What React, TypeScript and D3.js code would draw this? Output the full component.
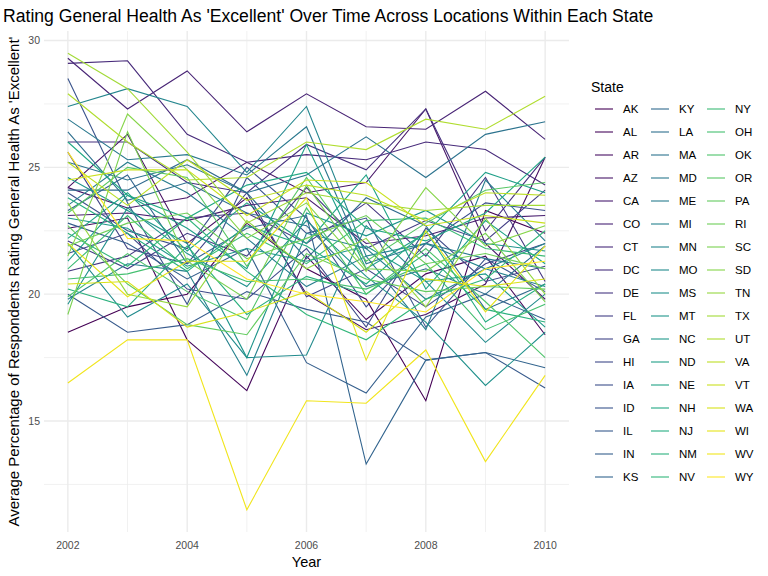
import React from "react";
import * as d3 from "d3";

const years = [2002, 2003, 2004, 2005, 2006, 2007, 2008, 2009, 2010];

// average % answering "Excellent", 2002..2010
const AK = [18.5, 19.5, 20.0, 22.8, 21.0, 19.8, 15.8, 23.3, 22.4];
const AL = [22.6, 23.0, 18.2, 16.2, 21.5, 19.0, 20.8, 21.5, 18.4];
const AR = [24.2, 26.3, 22.0, 23.8, 20.0, 18.6, 19.2, 20.4, 25.4];
const AZ = [24.2, 23.4, 23.8, 25.2, 24.0, 24.4, 27.3, 22.0, 19.8];
const CA = [23.1, 23.2, 22.9, 23.5, 23.8, 22.0, 22.3, 23.0, 23.1];
const CO = [29.3, 27.3, 28.8, 26.4, 27.9, 26.6, 26.5, 28.0, 26.1];
const CT = [29.1, 29.2, 26.3, 25.2, 25.5, 25.3, 26.0, 25.7, 24.3];
const DC = [26.0, 26.0, 24.4, 24.0, 25.9, 24.9, 27.3, 22.5, 25.4];
const DE = [20.9, 21.5, 23.0, 23.2, 22.0, 23.6, 21.5, 24.6, 20.5];
const FL = [22.1, 21.0, 22.4, 21.5, 24.2, 21.8, 22.9, 22.1, 24.1];
const GA = [25.6, 21.8, 21.2, 24.0, 19.9, 21.0, 19.5, 21.2, 22.0];
const HI = [21.6, 22.4, 20.2, 19.8, 21.8, 18.7, 22.6, 20.5, 21.1];
const IA = [24.0, 22.5, 21.8, 25.0, 23.0, 19.5, 22.0, 23.6, 23.3];
const ID = [28.5, 23.6, 19.6, 24.6, 22.4, 23.0, 18.7, 21.4, 20.1];
const IL = [20.0, 18.5, 18.8, 20.1, 19.4, 18.9, 17.4, 17.7, 16.3];
const IN = [22.8, 22.0, 20.6, 21.8, 17.3, 16.1, 19.1, 20.0, 19.0];
const KS = [23.3, 24.7, 21.2, 22.6, 23.1, 13.3, 17.4, 17.7, 17.1];
const KY = [24.1, 24.1, 25.3, 24.0, 21.4, 23.8, 22.7, 19.4, 20.4];
const LA = [26.4, 23.7, 24.4, 23.2, 22.7, 20.3, 21.0, 20.0, 21.9];
const MA = [25.2, 24.5, 25.1, 24.0, 24.7, 26.2, 24.6, 26.3, 26.8];
const MD = [26.9, 25.3, 25.5, 24.7, 26.6, 21.2, 22.0, 21.4, 21.0];
const ME = [23.5, 25.2, 24.0, 22.2, 20.3, 21.5, 18.6, 24.5, 22.1];
const MI = [19.8, 21.2, 20.9, 16.8, 22.4, 21.8, 19.8, 21.0, 20.3];
const MN = [27.4, 28.1, 27.4, 24.8, 27.4, 21.5, 22.0, 21.0, 22.0];
const MO = [22.0, 19.1, 20.4, 17.5, 17.6, 22.7, 20.5, 18.1, 20.0];
const MS = [19.6, 23.4, 21.6, 20.3, 22.9, 20.7, 18.9, 16.4, 18.5];
const MT = [24.6, 23.3, 22.0, 17.5, 23.2, 22.3, 23.3, 22.0, 21.7];
const NC = [23.0, 22.6, 21.1, 21.8, 21.3, 21.9, 20.5, 20.8, 18.7];
const ND = [21.3, 23.9, 22.6, 21.0, 25.9, 21.0, 22.4, 24.8, 24.0];
const NE = [22.2, 24.0, 21.7, 23.6, 22.0, 24.7, 20.2, 22.9, 21.2];
const NH = [26.0, 23.9, 23.0, 24.3, 24.8, 22.6, 22.1, 23.2, 25.4];
const NJ = [23.8, 22.4, 20.9, 22.7, 21.9, 20.4, 22.5, 18.9, 20.4];
const NM = [20.2, 19.5, 21.9, 19.2, 20.7, 20.0, 21.6, 19.4, 18.9];
const NV = [22.4, 21.1, 23.0, 20.9, 19.2, 18.2, 19.8, 20.6, 22.5];
const NY = [21.0, 23.1, 21.0, 22.4, 21.2, 22.9, 23.0, 21.8, 21.5];
const OH = [20.6, 20.8, 21.4, 20.5, 20.6, 20.2, 21.2, 18.6, 19.6];
const OK = [19.9, 21.6, 20.1, 19.0, 23.4, 20.0, 21.8, 19.7, 17.5];
const OR = [23.2, 25.0, 24.6, 21.1, 24.6, 21.3, 22.8, 24.1, 24.4];
const PA = [22.7, 20.4, 18.8, 18.4, 21.6, 20.6, 20.1, 20.3, 20.2];
const RI = [21.9, 22.8, 23.2, 21.4, 22.2, 23.1, 21.2, 21.6, 21.0];
const SC = [19.2, 26.4, 21.3, 19.8, 24.3, 21.0, 20.9, 22.4, 19.7];
const SD = [21.5, 27.1, 24.9, 22.2, 23.6, 20.9, 24.2, 21.9, 22.7];
const TN = [23.6, 20.0, 19.5, 22.9, 21.0, 22.2, 19.5, 23.0, 20.0];
const TX = [29.5, 28.1, 25.6, 22.8, 24.0, 23.6, 23.3, 23.5, 23.5];
const UT = [27.9, 26.0, 24.5, 24.6, 26.0, 25.7, 26.9, 26.5, 27.8];
const VA = [25.2, 23.5, 25.3, 23.7, 24.3, 23.9, 22.9, 24.0, 23.9];
const VT = [24.5, 24.9, 24.9, 23.1, 24.5, 24.4, 22.7, 23.1, 22.8];
const WA = [20.4, 20.5, 18.7, 19.3, 20.1, 18.5, 20.6, 20.3, 20.6];
const WI = [22.0, 19.9, 21.3, 21.3, 23.8, 17.4, 22.5, 19.3, 21.9];
const WV = [16.5, 18.2, 18.2, 11.5, 15.8, 15.7, 17.8, 13.4, 16.8];
const WY = [25.6, 22.2, 22.1, 20.6, 20.0, 19.7, 19.3, 21.0, 21.3];

const states = [
  "AK", "AL", "AR", "AZ", "CA", "CO", "CT", "DC", "DE", "FL", "GA", "HI", "IA",
  "ID", "IL", "IN", "KS", "KY", "LA", "MA", "MD", "ME", "MI", "MN", "MO", "MS",
  "MT", "NC", "ND", "NE", "NH", "NJ", "NM", "NV", "NY", "OH", "OK", "OR", "PA",
  "RI", "SC", "SD", "TN", "TX", "UT", "VA", "VT", "WA", "WI", "WV", "WY",
];
const values = [
  AK, AL, AR, AZ, CA, CO, CT, DC, DE, FL, GA, HI, IA, ID, IL, IN, KS, KY, LA,
  MA, MD, ME, MI, MN, MO, MS, MT, NC, ND, NE, NH, NJ, NM, NV, NY, OH, OK, OR,
  PA, RI, SC, SD, TN, TX, UT, VA, VT, WA, WI, WV, WY,
];

const xTicks = [2002, 2004, 2006, 2008, 2010];
const yTicks = [15, 20, 25, 30];

const font = "'Liberation Sans', Arial, Helvetica, sans-serif";

export default function App() {
  const panel = { left: 44, right: 569, top: 31, bottom: 532 };

  const x = d3.scaleLinear().domain([2001.6, 2010.4]).range([panel.left, panel.right]);
  const y = d3.scaleLinear().domain([15, 30]).range([421, 40.5]);
  const color = d3
    .scaleSequential(d3.interpolateViridis)
    .domain([0, states.length - 1]);

  const line = d3
    .line<number>()
    .x((_, i) => x(years[i]))
    .y((d) => y(d));

  const xMinor = [2003, 2005, 2007, 2009];
  const yMinor = [12.5, 17.5, 22.5, 27.5];

  // legend: 3 columns of 17
  const perCol = 17;
  const legendX = [595, 651, 707];

  return (
    <svg
      width={768}
      height={576}
      style={{ position: "absolute", left: 0, top: 0, background: "#fff" }}
      fontFamily={font}
    >
      {/* grid */}
      <g>
        {yMinor.map((t) => (
          <line key={"ym" + t} x1={panel.left} x2={panel.right} y1={y(t)} y2={y(t)} stroke="#ebebeb" strokeWidth={0.7} />
        ))}
        {xMinor.map((t) => (
          <line key={"xm" + t} x1={x(t)} x2={x(t)} y1={panel.top} y2={panel.bottom} stroke="#ebebeb" strokeWidth={0.7} />
        ))}
        {yTicks.map((t) => (
          <line key={"y" + t} x1={panel.left} x2={panel.right} y1={y(t)} y2={y(t)} stroke="#ebebeb" strokeWidth={1.4} />
        ))}
        {xTicks.map((t) => (
          <line key={"x" + t} x1={x(t)} x2={x(t)} y1={panel.top} y2={panel.bottom} stroke="#ebebeb" strokeWidth={1.4} />
        ))}
      </g>

      {/* lines */}
      <g fill="none" strokeWidth={1.1}>
        {values.map((v, i) => (
          <path key={states[i]} d={line(v) || ""} stroke={color(i)} />
        ))}
      </g>

      {/* axes text */}
      <g fontSize={10.5} fill="#4d4d4d">
        {yTicks.map((t) => (
          <text key={t} x={40} y={y(t)} dy="0.35em" textAnchor="end">
            {t}
          </text>
        ))}
        {xTicks.map((t) => (
          <text key={t} x={x(t)} y={549} textAnchor="middle">
            {t}
          </text>
        ))}
      </g>
      <text x={(panel.left + panel.right) / 2} y={567} textAnchor="middle" fontSize={14.5}>
        Year
      </text>
      <text
        transform={`translate(19,${(panel.top + panel.bottom) / 2}) rotate(-90)`}
        textAnchor="middle"
        fontSize={15}
      >
        Average Percentage of Respondents Rating General Health As 'Excellent'
      </text>

      {/* title */}
      <text x={3} y={22} fontSize={17.6}>
        Rating General Health As 'Excellent' Over Time Across Locations Within Each State
      </text>

      {/* legend */}
      <text x={591} y={92} fontSize={14}>
        State
      </text>
      {states.map((s, i) => {
        const col = Math.floor(i / perCol);
        const row = i % perCol;
        const lx = legendX[col];
        const ly = 109 + row * 23;
        return (
          <g key={s}>
            <line x1={lx} x2={lx + 18} y1={ly} y2={ly} stroke={color(i)} strokeWidth={1.1} />
            <text x={lx + 28} y={ly} dy="0.35em" fontSize={11.5}>
              {s}
            </text>
          </g>
        );
      })}
    </svg>
  );
}
